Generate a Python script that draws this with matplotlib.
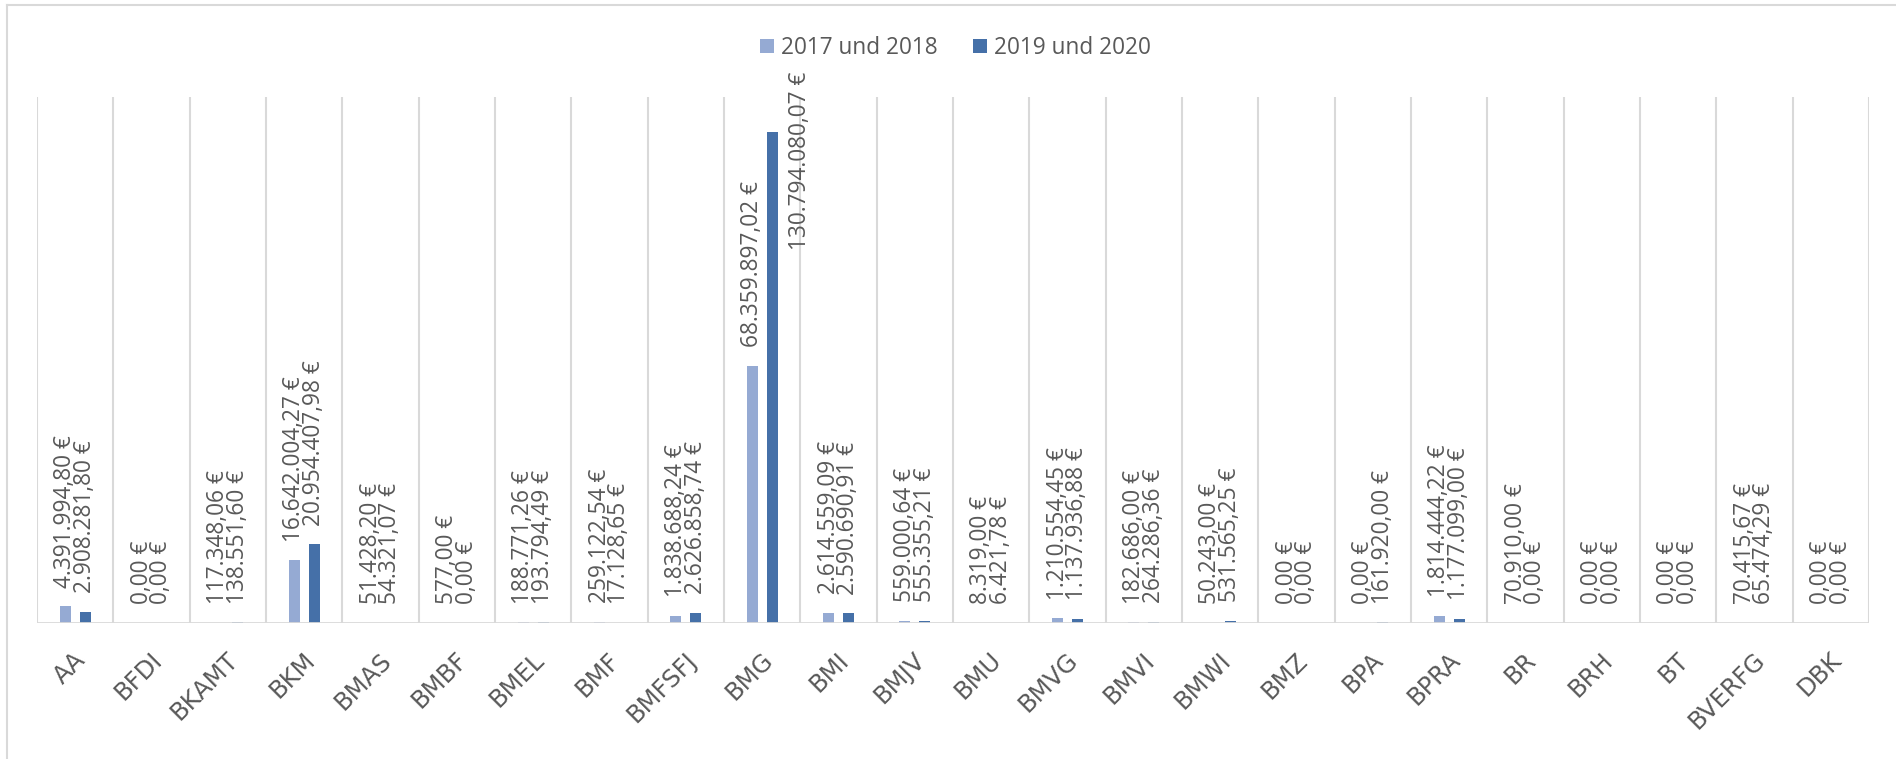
# Grouped bar chart: costs per department, 2017/2018 vs 2019/2020
import matplotlib.pyplot as plt
from matplotlib.lines import Line2D
import matplotlib.transforms as mtransforms
import numpy as np

plt.rcParams['font.family'] = ['Open Sans', 'DejaVu Sans']

# Data
categories = ["AA", "BFDI", "BKAMT", "BKM", "BMAS", "BMBF", "BMEL", "BMF",
              "BMFSFJ", "BMG", "BMI", "BMJV", "BMU", "BMVG", "BMVI", "BMWI",
              "BMZ", "BPA", "BPRA", "BR", "BRH", "BT", "BVERFG", "DBK"]
values_2017_2018 = [4391994.80, 0.00, 117348.06, 16642004.27, 51428.20, 577.00,
                    188771.26, 259122.54, 1838688.24, 68359897.02, 2614559.09,
                    559000.64, 8319.00, 1210554.45, 182686.00, 50243.00, 0.00,
                    0.00, 1814444.22, 70910.00, 0.00, 0.00, 70415.67, 0.00]
values_2019_2020 = [2908281.80, 0.00, 138551.60, 20954407.98, 54321.07, 0.00,
                    193794.49, 17128.65, 2626858.74, 130794080.07, 2590690.91,
                    555355.21, 6421.78, 1137936.88, 264286.36, 531565.25, 0.00,
                    161920.00, 1177099.00, 0.00, 0.00, 0.00, 65474.29, 0.00]
series_names = ["2017 und 2018", "2019 und 2020"]

LIGHT = '#95aad3'
DARK = '#4570a8'
GRID = '#d9d9d9'
TEXT = '#595959'
FS = 16.3


def euro(v):
    # German number format: 1.234.567,89 €
    s = "{:,.2f}".format(v)
    s = s.replace(",", "X").replace(".", ",").replace("X", ".")
    return s + " €"


fig = plt.figure(figsize=(18.96, 7.59), dpi=100)
ax = fig.add_axes([0.0195, 0.1792, 0.9663, 0.6930])

x = np.arange(len(categories))
width = 0.145
off = 0.13

bars1 = ax.bar(x - off, values_2017_2018, width, color=LIGHT, label=series_names[0])
bars2 = ax.bar(x + off, values_2019_2020, width, color=DARK, label=series_names[1])

ax.set_xlim(-0.5, len(categories) - 0.5)
ax.set_ylim(0, 140000000)

# category separators
for b in np.arange(-0.5, len(categories), 1.0):
    ax.axvline(b, color=GRID, lw=1.5, zorder=0)
ax.axhline(0, color=GRID, lw=2, zorder=3)

for s in ax.spines.values():
    s.set_visible(False)
ax.set_yticks([])
ax.set_xticks(x)
ax.set_xticklabels(categories, rotation=45, ha='right', va='center',
                   rotation_mode='anchor', fontsize=17.5, color=TEXT,
                   family='DejaVu Sans')
ax.tick_params(axis='x', length=0, pad=24)
shift = mtransforms.ScaledTranslation(7 / 100, 0, fig.dpi_scale_trans)
for lbl in ax.get_xticklabels():
    lbl.set_transform(lbl.get_transform() + shift)

# value labels above the bars
top_val = max(values_2019_2020)
for xi, v in zip(x - off, values_2017_2018):
    ax.annotate(euro(v), (xi, v), xytext=(0, 13.5), textcoords='offset points',
                rotation=90, ha='center', va='bottom', fontsize=FS, color=TEXT)
for xi, v in zip(x + off, values_2019_2020):
    if v == top_val:
        # does not fit above the bar, so it sits beside it near the top
        ax.annotate(euro(v), (xi + 0.37, 1.0), xycoords=('data', 'axes fraction'),
                    xytext=(0, 18), textcoords='offset points',
                    rotation=90, ha='center', va='top', fontsize=FS, color=TEXT)
    else:
        ax.annotate(euro(v), (xi, v), xytext=(0, 13.5), textcoords='offset points',
                    rotation=90, ha='center', va='bottom', fontsize=FS, color=TEXT)

leg = fig.legend(loc='center', bbox_to_anchor=(0.504, 0.937), ncol=2, frameon=False,
                 fontsize=FS, handlelength=0.62, handleheight=0.62,
                 handletextpad=0.3, columnspacing=1.55)
for t in leg.get_texts():
    t.set_color(TEXT)

# chart frame (only left and top are inside the picture)
fig.add_artist(Line2D([0.0037, 0.0037], [0, 0.994], color=GRID, lw=1.5))
fig.add_artist(Line2D([0.0037, 1], [0.994, 0.994], color=GRID, lw=1.5))

fig.savefig("out.png", dpi=100)
